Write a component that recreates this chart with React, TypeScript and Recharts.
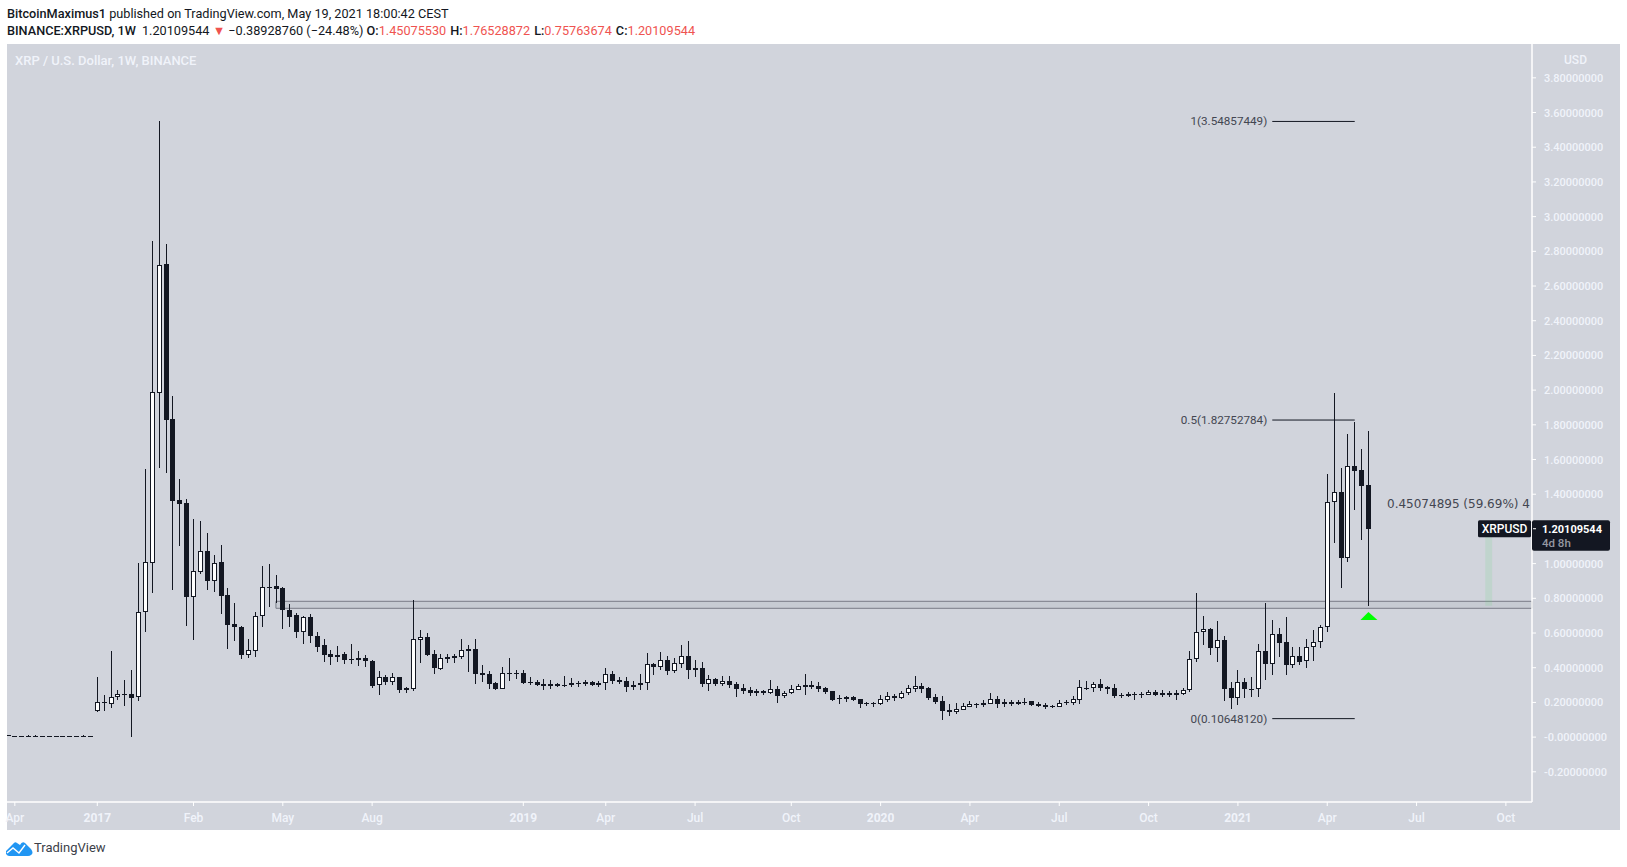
import React from 'react';
import {
    ComposedChart,
    Bar,
    XAxis,
    YAxis,
    ReferenceArea,
    ReferenceDot,
    ReferenceLine,
} from 'recharts';

// 13 flat weeks before the listing, then the weekly candles
const opens = [
    0.012, 0.006, 0.006, 0.006, 0.006, 0.006, 0.006, 0.006, 0.006, 0.006, 0.006, 0.006, 0.006,
    0.153, 0.202, 0.188, 0.230, 0.248, 0.250, 0.230, 0.720, 1.006, 1.985,
    2.727, 1.834, 1.367, 1.350, 0.810, 0.954, 1.073, 0.902, 1.008, 0.820,
    0.653, 0.634, 0.476, 0.499, 0.697, 0.866, 0.872, 0.860, 0.733, 0.704,
    0.603, 0.693, 0.584, 0.532, 0.478, 0.459, 0.480, 0.451, 0.457, 0.455,
    0.438, 0.300, 0.347, 0.320, 0.347, 0.283, 0.280, 0.562, 0.577, 0.479,
    0.395, 0.462, 0.468, 0.464, 0.508, 0.508, 0.368, 0.364, 0.310, 0.280,
    0.370, 0.368, 0.370, 0.318, 0.318, 0.306, 0.306, 0.306, 0.301, 0.299,
    0.312, 0.318, 0.318, 0.312, 0.310, 0.362, 0.328, 0.322, 0.301, 0.299,
    0.310, 0.422, 0.406, 0.445, 0.381, 0.424, 0.468, 0.399, 0.399, 0.306,
    0.333, 0.306, 0.322, 0.306, 0.283, 0.272, 0.268, 0.266, 0.256, 0.276,
    0.237, 0.256, 0.274, 0.300, 0.300, 0.295, 0.281, 0.266, 0.226, 0.231,
    0.231, 0.218, 0.195, 0.195, 0.193, 0.214, 0.237, 0.226, 0.253, 0.279,
    0.295, 0.281, 0.230, 0.208, 0.157, 0.145, 0.157, 0.176, 0.191, 0.195,
    0.191, 0.218, 0.205, 0.203, 0.203, 0.203, 0.206, 0.191, 0.185, 0.180,
    0.176, 0.203, 0.199, 0.216, 0.285, 0.283, 0.304, 0.289, 0.283, 0.243,
    0.249, 0.248, 0.248, 0.244, 0.259, 0.240, 0.255, 0.240, 0.250, 0.269,
    0.449, 0.605, 0.622, 0.511, 0.561, 0.282, 0.223, 0.317, 0.278, 0.275,
    0.497, 0.420, 0.593, 0.549, 0.413, 0.469, 0.436, 0.518, 0.547, 0.634,
    1.354, 1.413, 1.035, 1.561, 1.540, 1.4508,
];

const closes = [
    0.005, 0.005, 0.005, 0.005, 0.005, 0.005, 0.005, 0.005, 0.005, 0.005, 0.005, 0.005, 0.005,
    0.202, 0.194, 0.230, 0.248, 0.244, 0.228, 0.720, 1.008, 1.987, 2.719,
    1.830, 1.363, 1.346, 0.810, 0.956, 1.071, 0.902, 1.002, 0.816, 0.649,
    0.632, 0.476, 0.501, 0.697, 0.864, 0.860, 0.854, 0.730, 0.695, 0.603,
    0.691, 0.580, 0.522, 0.476, 0.459, 0.476, 0.447, 0.447, 0.447, 0.436,
    0.292, 0.346, 0.318, 0.345, 0.274, 0.274, 0.564, 0.575, 0.473, 0.401,
    0.454, 0.452, 0.458, 0.500, 0.498, 0.364, 0.360, 0.306, 0.278, 0.368,
    0.364, 0.362, 0.312, 0.312, 0.301, 0.297, 0.295, 0.295, 0.295, 0.310,
    0.308, 0.306, 0.301, 0.301, 0.362, 0.326, 0.318, 0.291, 0.291, 0.310,
    0.420, 0.406, 0.443, 0.381, 0.426, 0.466, 0.387, 0.387, 0.306, 0.333,
    0.306, 0.322, 0.301, 0.278, 0.266, 0.254, 0.256, 0.256, 0.276, 0.237,
    0.256, 0.276, 0.293, 0.291, 0.289, 0.277, 0.260, 0.216, 0.218, 0.220,
    0.214, 0.193, 0.191, 0.191, 0.218, 0.235, 0.224, 0.253, 0.281, 0.293,
    0.277, 0.228, 0.203, 0.151, 0.145, 0.160, 0.178, 0.189, 0.185, 0.183,
    0.218, 0.191, 0.191, 0.189, 0.191, 0.197, 0.185, 0.180, 0.174, 0.174,
    0.199, 0.197, 0.218, 0.287, 0.279, 0.304, 0.283, 0.277, 0.237, 0.237,
    0.237, 0.240, 0.240, 0.261, 0.240, 0.253, 0.240, 0.253, 0.271, 0.449,
    0.605, 0.622, 0.511, 0.559, 0.280, 0.223, 0.317, 0.275, 0.273, 0.495,
    0.419, 0.593, 0.543, 0.413, 0.467, 0.434, 0.518, 0.547, 0.634, 1.354,
    1.411, 1.035, 1.561, 1.536, 1.449, 1.2011,
];

const highs = [
    0.012, 0.006, 0.006, 0.012, 0.012, 0.006, 0.006, 0.006, 0.006, 0.006, 0.006, 0.012, 0.006,
    0.347, 0.244, 0.497, 0.273, 0.330, 0.388, 1.004, 1.545, 2.859, 3.551,
    2.842, 1.966, 1.488, 1.373, 1.258, 1.246, 1.177, 1.050, 1.108, 0.860,
    0.774, 0.641, 0.566, 0.722, 0.987, 0.998, 0.935, 0.866, 0.768, 0.714,
    0.699, 0.710, 0.607, 0.566, 0.503, 0.526, 0.491, 0.538, 0.497, 0.474,
    0.443, 0.382, 0.356, 0.370, 0.347, 0.287, 0.790, 0.618, 0.598, 0.502,
    0.479, 0.479, 0.477, 0.566, 0.531, 0.566, 0.416, 0.379, 0.316, 0.404,
    0.456, 0.385, 0.385, 0.347, 0.328, 0.333, 0.328, 0.314, 0.353, 0.341,
    0.324, 0.328, 0.322, 0.322, 0.399, 0.379, 0.349, 0.345, 0.322, 0.362,
    0.485, 0.425, 0.489, 0.466, 0.456, 0.531, 0.554, 0.445, 0.431, 0.358,
    0.339, 0.353, 0.351, 0.318, 0.304, 0.289, 0.277, 0.272, 0.329, 0.295,
    0.266, 0.300, 0.306, 0.364, 0.324, 0.318, 0.289, 0.266, 0.243, 0.237,
    0.235, 0.218, 0.203, 0.201, 0.243, 0.258, 0.247, 0.266, 0.300, 0.352,
    0.312, 0.287, 0.249, 0.237, 0.191, 0.197, 0.195, 0.208, 0.197, 0.214,
    0.254, 0.237, 0.218, 0.214, 0.214, 0.226, 0.206, 0.201, 0.195, 0.185,
    0.214, 0.212, 0.237, 0.329, 0.324, 0.316, 0.335, 0.295, 0.306, 0.254,
    0.260, 0.259, 0.259, 0.269, 0.269, 0.269, 0.265, 0.271, 0.282, 0.497,
    0.829, 0.699, 0.630, 0.670, 0.584, 0.319, 0.388, 0.342, 0.348, 0.538,
    0.774, 0.676, 0.630, 0.693, 0.520, 0.520, 0.564, 0.618, 0.645, 1.517,
    1.983, 1.551, 1.747, 1.816, 1.661, 1.7653,
];

const lows = [
    0.004, 0.004, 0.004, 0.004, 0.004, 0.004, 0.004, 0.004, 0.004, 0.004, 0.004, 0.004, 0.004,
    0.146, 0.152, 0.171, 0.215, 0.180, 0.002, 0.211, 0.603, 0.833, 1.553,
    1.524, 0.845, 1.104, 0.643, 0.563, 0.941, 0.849, 0.839, 0.712, 0.511,
    0.557, 0.453, 0.459, 0.465, 0.637, 0.753, 0.772, 0.626, 0.637, 0.568,
    0.539, 0.545, 0.493, 0.436, 0.418, 0.436, 0.424, 0.424, 0.413, 0.407,
    0.280, 0.246, 0.301, 0.303, 0.257, 0.251, 0.268, 0.429, 0.464, 0.366,
    0.389, 0.429, 0.424, 0.451, 0.378, 0.306, 0.318, 0.278, 0.272, 0.280,
    0.324, 0.335, 0.306, 0.301, 0.295, 0.272, 0.278, 0.289, 0.289, 0.289,
    0.289, 0.295, 0.295, 0.289, 0.272, 0.306, 0.306, 0.260, 0.272, 0.272,
    0.272, 0.353, 0.387, 0.358, 0.370, 0.399, 0.335, 0.347, 0.289, 0.266,
    0.295, 0.295, 0.283, 0.232, 0.249, 0.237, 0.237, 0.243, 0.249, 0.197,
    0.226, 0.249, 0.272, 0.243, 0.277, 0.260, 0.249, 0.208, 0.191, 0.203,
    0.208, 0.168, 0.180, 0.174, 0.185, 0.203, 0.208, 0.220, 0.243, 0.260,
    0.254, 0.214, 0.191, 0.099, 0.122, 0.133, 0.153, 0.172, 0.168, 0.174,
    0.191, 0.168, 0.174, 0.180, 0.183, 0.185, 0.180, 0.174, 0.162, 0.168,
    0.174, 0.185, 0.185, 0.191, 0.272, 0.260, 0.266, 0.249, 0.226, 0.226,
    0.231, 0.214, 0.227, 0.240, 0.232, 0.229, 0.229, 0.215, 0.242, 0.263,
    0.430, 0.534, 0.476, 0.436, 0.211, 0.165, 0.188, 0.229, 0.234, 0.234,
    0.332, 0.361, 0.465, 0.361, 0.401, 0.419, 0.396, 0.442, 0.511, 0.609,
    1.121, 0.862, 1.012, 1.311, 1.138, 0.7576,
];

const xTickWeeks = [-12, 0, 14, 27, 40, 62, 74, 87, 101, 114, 127, 140, 153, 166, 179, 192, 205];
const xTickLabels = ['Apr', '2017', 'Feb', 'May', 'Aug', '2019', 'Apr', 'Jul', 'Oct', '2020', 'Apr', 'Jul', 'Oct', '2021', 'Apr', 'Jul', 'Oct'];

// 1.2 sits behind the price tag in the original
const yTicks = [-0.2, 0, 0.2, 0.4, 0.6, 0.8, 1, 1.4, 1.6, 1.8, 2, 2.2, 2.4, 2.6, 2.8, 3, 3.2, 3.4, 3.6, 3.8];

const fibValues = [3.54857449, 1.82752784, 0.1064812];
const fibLabels = ['1(3.54857449)', '0.5(1.82752784)', '0(0.10648120)'];

const DARK = '#131722';
const GREY_TEXT = '#434651';
const AXIS_TEXT = '#f0f3fa';
const RED = '#ef5350';
const FONT = 'Roboto, sans-serif';

const xMin = -13.14;
const xMax = 208.8;
const lastClose = closes[closes.length - 1];

const rows = opens.map((open, k) => ({
    week: k - 13,
    open,
    close: closes[k],
    high: highs[k],
    low: lows[k],
    range: [lows[k], highs[k]],
}));

const Candle = (props: any) => {
    const { x, y, width, height, payload } = props;
    const { open, close, high, low } = payload;
    const perUnit = height / (high - low);
    const toY = (v: number) => y + (high - v) * perUnit;
    const cx = Math.floor(x + width / 2);
    const top = Math.round(toY(Math.max(open, close)));
    const bottom = Math.round(toY(Math.min(open, close)));
    const isUp = close >= open;
    return (
        <g>
            <rect x={cx} y={Math.round(y)} width={1} height={Math.max(1, Math.round(height))} fill={DARK} />
            {isUp ? (
                <rect x={cx - 1.5} y={top + 0.5} width={4} height={Math.max(1, bottom - top - 1)} fill="#ffffff" stroke={DARK} strokeWidth={1} />
            ) : (
                <rect x={cx - 2} y={top} width={5} height={Math.max(1, bottom - top)} fill={DARK} />
            )}
        </g>
    );
};

const XTick = ({ x, y, payload }: any) => {
    const label = xTickLabels[xTickWeeks.indexOf(payload.value)];
    const isYear = /^\d+$/.test(label);
    return (
        <text x={x} y={y + 14} textAnchor="middle" fill={AXIS_TEXT} fontFamily={FONT} fontSize={12} fontWeight={isYear ? 700 : 500}>
            {label}
        </text>
    );
};

const YTick = ({ x, y, payload }: any) => {
    // TradingView prints the zero line with a minus sign here
    const label = payload.value === 0 ? '-0.00000000' : payload.value.toFixed(8);
    return (
        <text x={x + 6} y={y + 4} textAnchor="start" fill={AXIS_TEXT} fontFamily={FONT} fontSize={11} fontWeight={500}>
            {label}
        </text>
    );
};

const PriceTag = ({ cx, cy }: any) => (
    <g fontFamily={FONT} fontSize={12}>
        <rect x={cx - 54} y={cy - 8.5} width={53} height={17} rx={1.5} fill={DARK} />
        <text x={cx - 27.5} y={cy + 4} textAnchor="middle" fill="#ffffff" fontWeight={500}>XRPUSD</text>
        <rect x={cx} y={cy - 8.5} width={78} height={30.5} rx={2} fill={DARK} />
        <rect x={cx + 1} y={cy - 0.5} width={3} height={1} fill="#ffffff" />
        <text x={cx + 10} y={cy + 4} fill="#ffffff" fontSize={11} fontWeight={700}>1.20109544</text>
        <text x={cx + 10} y={cy + 18} fill="#9598a1" fontSize={11.5} fontWeight={500}>4d 8h</text>
    </g>
);

// the original label runs into the price axis, only its first digit shows
const MeasureLabel = ({ cx, cy }: any) => (
    <text x={cx} y={cy + 4} fill={GREY_TEXT} fontFamily="'DejaVu Sans', sans-serif" fontSize={12}>
        0.45074895 (59.69%) 4
    </text>
);

const Triangle = ({ cx, cy }: any) => (
    <path d={`M${cx - 8},${cy + 4} L${cx},${cy - 4} L${cx + 9},${cy + 4} Z`} fill="#00ff00" />
);

const Logo = () => (
    <svg width={27} height={15} viewBox="0 0 27 15" style={{ position: 'absolute', left: 6, top: 841 }}>
        <path d="M0,10 L7,3 Q9,0 11,2 L14,4 Q16,0 19,2 L25,8 Q28,12 25,14 Q24,15 22,15 L3,15 Q-1,14 0,10 Z" fill="#2196f3" />
        <path d="M1,12 L7,7 L13,12 L19,4" fill="none" stroke="#ffffff" strokeWidth={1.4} />
    </svg>
);

const Val = ({ children }: any) => <span style={{ color: RED, marginRight: 4 }}>{children}</span>;

export default function App() {
    return (
        <div style={{ position: 'absolute', left: 0, top: 0, width: 1627, height: 867, background: '#ffffff', overflow: 'hidden', fontFamily: FONT, color: DARK }}>
            <div style={{ position: 'absolute', left: 7, top: 44, width: 1613, height: 786, background: '#d1d4dc' }} />

            <div style={{ position: 'absolute', left: 7, top: 6, fontSize: 12.7, whiteSpace: 'nowrap', lineHeight: '16px' }}>
                <b style={{ fontWeight: 500 }}>BitcoinMaximus1</b> published on TradingView.com, May 19, 2021 18:00:42 CEST
            </div>
            <div style={{ position: 'absolute', left: 7, top: 23, fontSize: 12.7, whiteSpace: 'nowrap', lineHeight: '16px' }}>
                <b style={{ fontWeight: 500 }}>BINANCE:XRPUSD, 1W</b>
                <span style={{ marginLeft: 6 }}>1.20109544 </span>
                <span style={{ color: RED }}>▼</span>
                <span> −0.38928760 (−24.48%) </span>
                <b style={{ fontWeight: 500 }}>O:</b><Val>1.45075530</Val>
                <b style={{ fontWeight: 500 }}>H:</b><Val>1.76528872</Val>
                <b style={{ fontWeight: 500 }}>L:</b><Val>0.75763674</Val>
                <b style={{ fontWeight: 500 }}>C:</b><Val>1.20109544</Val>
            </div>
            <div style={{ position: 'absolute', left: 15, top: 53, fontSize: 13, fontWeight: 500, whiteSpace: 'nowrap', lineHeight: '16px', color: AXIS_TEXT }}>
                XRP / U.S. Dollar, 1W, BINANCE
            </div>
            <div style={{ position: 'absolute', left: 1535, width: 81, textAlign: 'center', top: 52, fontSize: 12, fontWeight: 500, lineHeight: '16px', color: AXIS_TEXT }}>
                USD
            </div>

            <div style={{ position: 'absolute', left: 0, top: 0 }}>
                <ComposedChart width={1627} height={867} data={rows} margin={{ top: 44, left: 7, right: 7, bottom: 37 }} barSize={5}>
                    <XAxis
                        dataKey="week"
                        type="number"
                        domain={[xMin, xMax]}
                        allowDataOverflow
                        ticks={xTickWeeks}
                        interval={0}
                        height={28}
                        stroke="#ffffff"
                        axisLine={{ stroke: '#ffffff', strokeWidth: 1.5 }}
                        tickLine={{ stroke: '#ffffff' }}
                        tickSize={4}
                        tick={<XTick />}
                    />
                    <YAxis
                        orientation="right"
                        type="number"
                        domain={[-0.374, 3.995]}
                        allowDataOverflow
                        ticks={yTicks}
                        interval={0}
                        width={88}
                        axisLine={{ stroke: '#ffffff', strokeWidth: 1.5 }}
                        tickLine={{ stroke: '#ffffff' }}
                        tickSize={4}
                        tick={<YTick />}
                    />
                    <ReferenceArea x1={26} x2={xMax} y1={0.7424} y2={0.7828} fill="#787b86" fillOpacity={0.1} stroke="#787b86" strokeWidth={1} />
                    <ReferenceArea x1={202} x2={203} y1={0.757} y2={1.208} fill="#66d67a" fillOpacity={0.15} />
                    {fibValues.map((level) => (
                        <ReferenceLine
                            key={level}
                            segment={[{ x: 171, y: level }, { x: 183, y: level }]}
                            stroke={DARK}
                            strokeWidth={1}
                        />
                    ))}
                    {fibValues.map((level, k) => (
                        <ReferenceDot
                            key={fibLabels[k]}
                            x={171}
                            y={level}
                            shape={(p: any) => (
                                <text x={p.cx - 5} y={p.cy + 4} textAnchor="end" fill={GREY_TEXT} fontFamily={FONT} fontSize={11.7}>
                                    {fibLabels[k]}
                                </text>
                            )}
                        />
                    ))}
                    <Bar dataKey="range" shape={<Candle />} isAnimationActive={false} />
                    <ReferenceDot x={187.7} y={1.3435} shape={<MeasureLabel />} />
                    <ReferenceDot x={185} y={0.698} shape={<Triangle />} />
                    <ReferenceDot x={xMax} y={lastClose} shape={<PriceTag />} ifOverflow="visible" />
                </ComposedChart>
            </div>

            <Logo />
            <div style={{ position: 'absolute', left: 34, top: 840, fontSize: 13, lineHeight: '16px', color: '#3c4048', whiteSpace: 'nowrap' }}>
                TradingView
            </div>
        </div>
    );
}
